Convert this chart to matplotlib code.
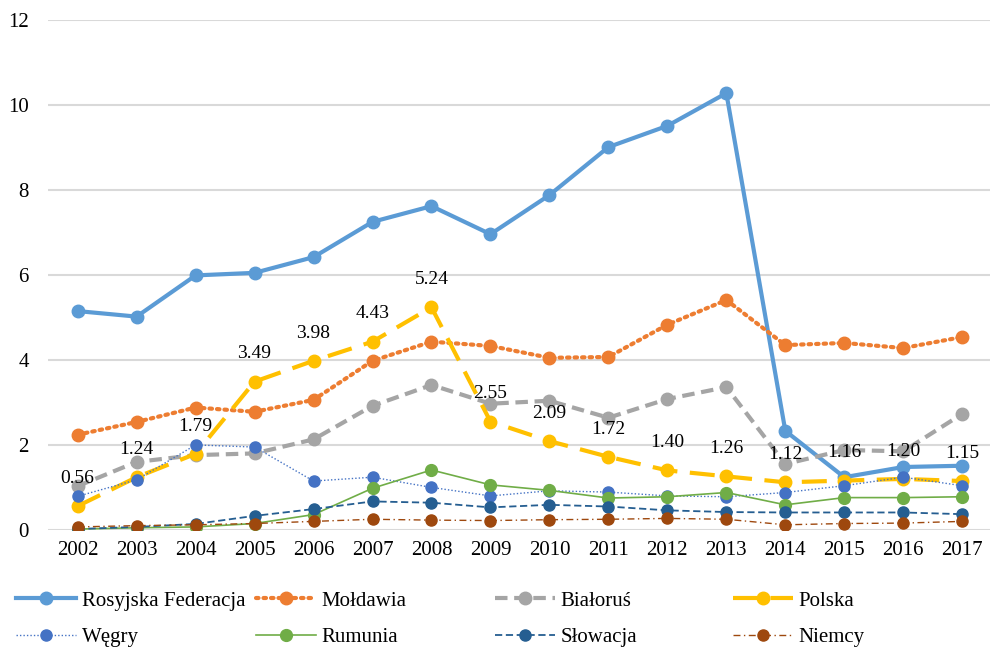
import matplotlib
matplotlib.use('Agg')
import matplotlib.pyplot as plt

# dane
years = [2002, 2003, 2004, 2005, 2006, 2007, 2008, 2009,
         2010, 2011, 2012, 2013, 2014, 2015, 2016, 2017]
rosja = [5.15, 5.02, 5.99, 6.05, 6.42, 7.25, 7.62, 6.96,
         7.88, 9.01, 9.51, 10.28, 2.33, 1.24, 1.48, 1.51]
moldawia = [2.24, 2.54, 2.88, 2.78, 3.06, 3.98, 4.43, 4.33,
            4.05, 4.07, 4.83, 5.41, 4.35, 4.40, 4.28, 4.54]
bialorus = [1.03, 1.60, 1.76, 1.80, 2.13, 2.92, 3.41, 2.97,
            3.04, 2.64, 3.08, 3.36, 1.55, 1.88, 1.85, 2.73]
polska = [0.56, 1.24, 1.79, 3.49, 3.98, 4.43, 5.24, 2.55,
          2.09, 1.72, 1.40, 1.26, 1.12, 1.16, 1.20, 1.15]
wegry = [0.79, 1.18, 2.00, 1.95, 1.15, 1.24, 1.00, 0.80,
         0.92, 0.89, 0.80, 0.78, 0.88, 1.04, 1.24, 1.04]
rumunia = [0.02, 0.05, 0.07, 0.15, 0.36, 0.98, 1.41, 1.06,
           0.93, 0.75, 0.78, 0.88, 0.59, 0.76, 0.76, 0.78]
slowacja = [0.02, 0.07, 0.14, 0.33, 0.49, 0.67, 0.64, 0.53,
            0.59, 0.55, 0.46, 0.42, 0.41, 0.41, 0.41, 0.37]
niemcy = [0.07, 0.10, 0.12, 0.15, 0.20, 0.25, 0.23, 0.22,
          0.24, 0.25, 0.27, 0.25, 0.12, 0.15, 0.16, 0.20]
y_ticks = [0, 2, 4, 6, 8, 10, 12]

plt.rcParams['font.family'] = ['Liberation Serif', 'DejaVu Serif']

fig = plt.figure(figsize=(10.03, 6.47), dpi=100)
ax = fig.add_axes([0.048, 0.181, 0.939, 0.788])

x = list(range(len(years)))

# (etykieta, dane, kolor, styl linii, grubość, wielkość znacznika)
series = [
    ('Rosyjska Federacja', rosja, '#5B9BD5', '-', 3.0, 9),
    ('Mołdawia', moldawia, '#ED7D31', (0, (0.6, 1.2)), 3.0, 9),
    ('Białoruś', bialorus, '#A5A5A5', (0, (3, 1.6)), 3.0, 9),
    ('Polska', polska, '#FFC000', (0, (6, 3)), 3.0, 9),
    ('Węgry', wegry, '#4472C4', (0, (1, 1.5)), 1.0, 8),
    ('Rumunia', rumunia, '#70AD47', '-', 1.2, 8.5),
    ('Słowacja', slowacja, '#255E91', (0, (4, 2)), 1.3, 8),
    ('Niemcy', niemcy, '#9E480E', (0, (5, 2.5, 1, 2.5)), 1.0, 8),
]

handles = []
for label, vals, color, ls, lw, ms in series:
    line, = ax.plot(x, vals, color=color, linestyle=ls, linewidth=lw,
                    marker='o', markersize=ms, markeredgecolor=color,
                    markerfacecolor=color, label=label,
                    dash_capstyle='round' if label == 'Mołdawia' else 'butt')
    handles.append(line)

# etykiety danych dla Polski
for xi, v in zip(x, polska):
    ax.annotate(f'{v:.2f}', (xi, v), xytext=(0, 20), textcoords='offset points',
                ha='center', va='center', fontsize=14, color='black')

ax.set_xlim(-0.5, 15.47)
ax.set_ylim(0, 12)
ax.set_yticks(y_ticks)
ax.set_xticks(x)
ax.set_xticklabels([str(y) for y in years])
ax.tick_params(axis='both', length=0, labelsize=15)
ax.tick_params(axis='y', pad=14)
ax.tick_params(axis='x', pad=8)
ax.grid(axis='y', color='#D9D9D9', linewidth=1.5)
ax.set_axisbelow(True)
for s in ax.spines.values():
    s.set_visible(False)

# legenda w czterech kolumnach
col_x = [16, 256, 495, 733]
for i, cx in enumerate(col_x):
    fig.legend(handles=[handles[i], handles[i + 4]], loc='upper left',
               bbox_to_anchor=(cx / 1003, 1 - 591 / 647), frameon=False,
               fontsize=15, handlelength=2.9, handletextpad=0.25,
               borderpad=0, borderaxespad=0, labelspacing=0.82)

fig.savefig('out.png', dpi=100)
